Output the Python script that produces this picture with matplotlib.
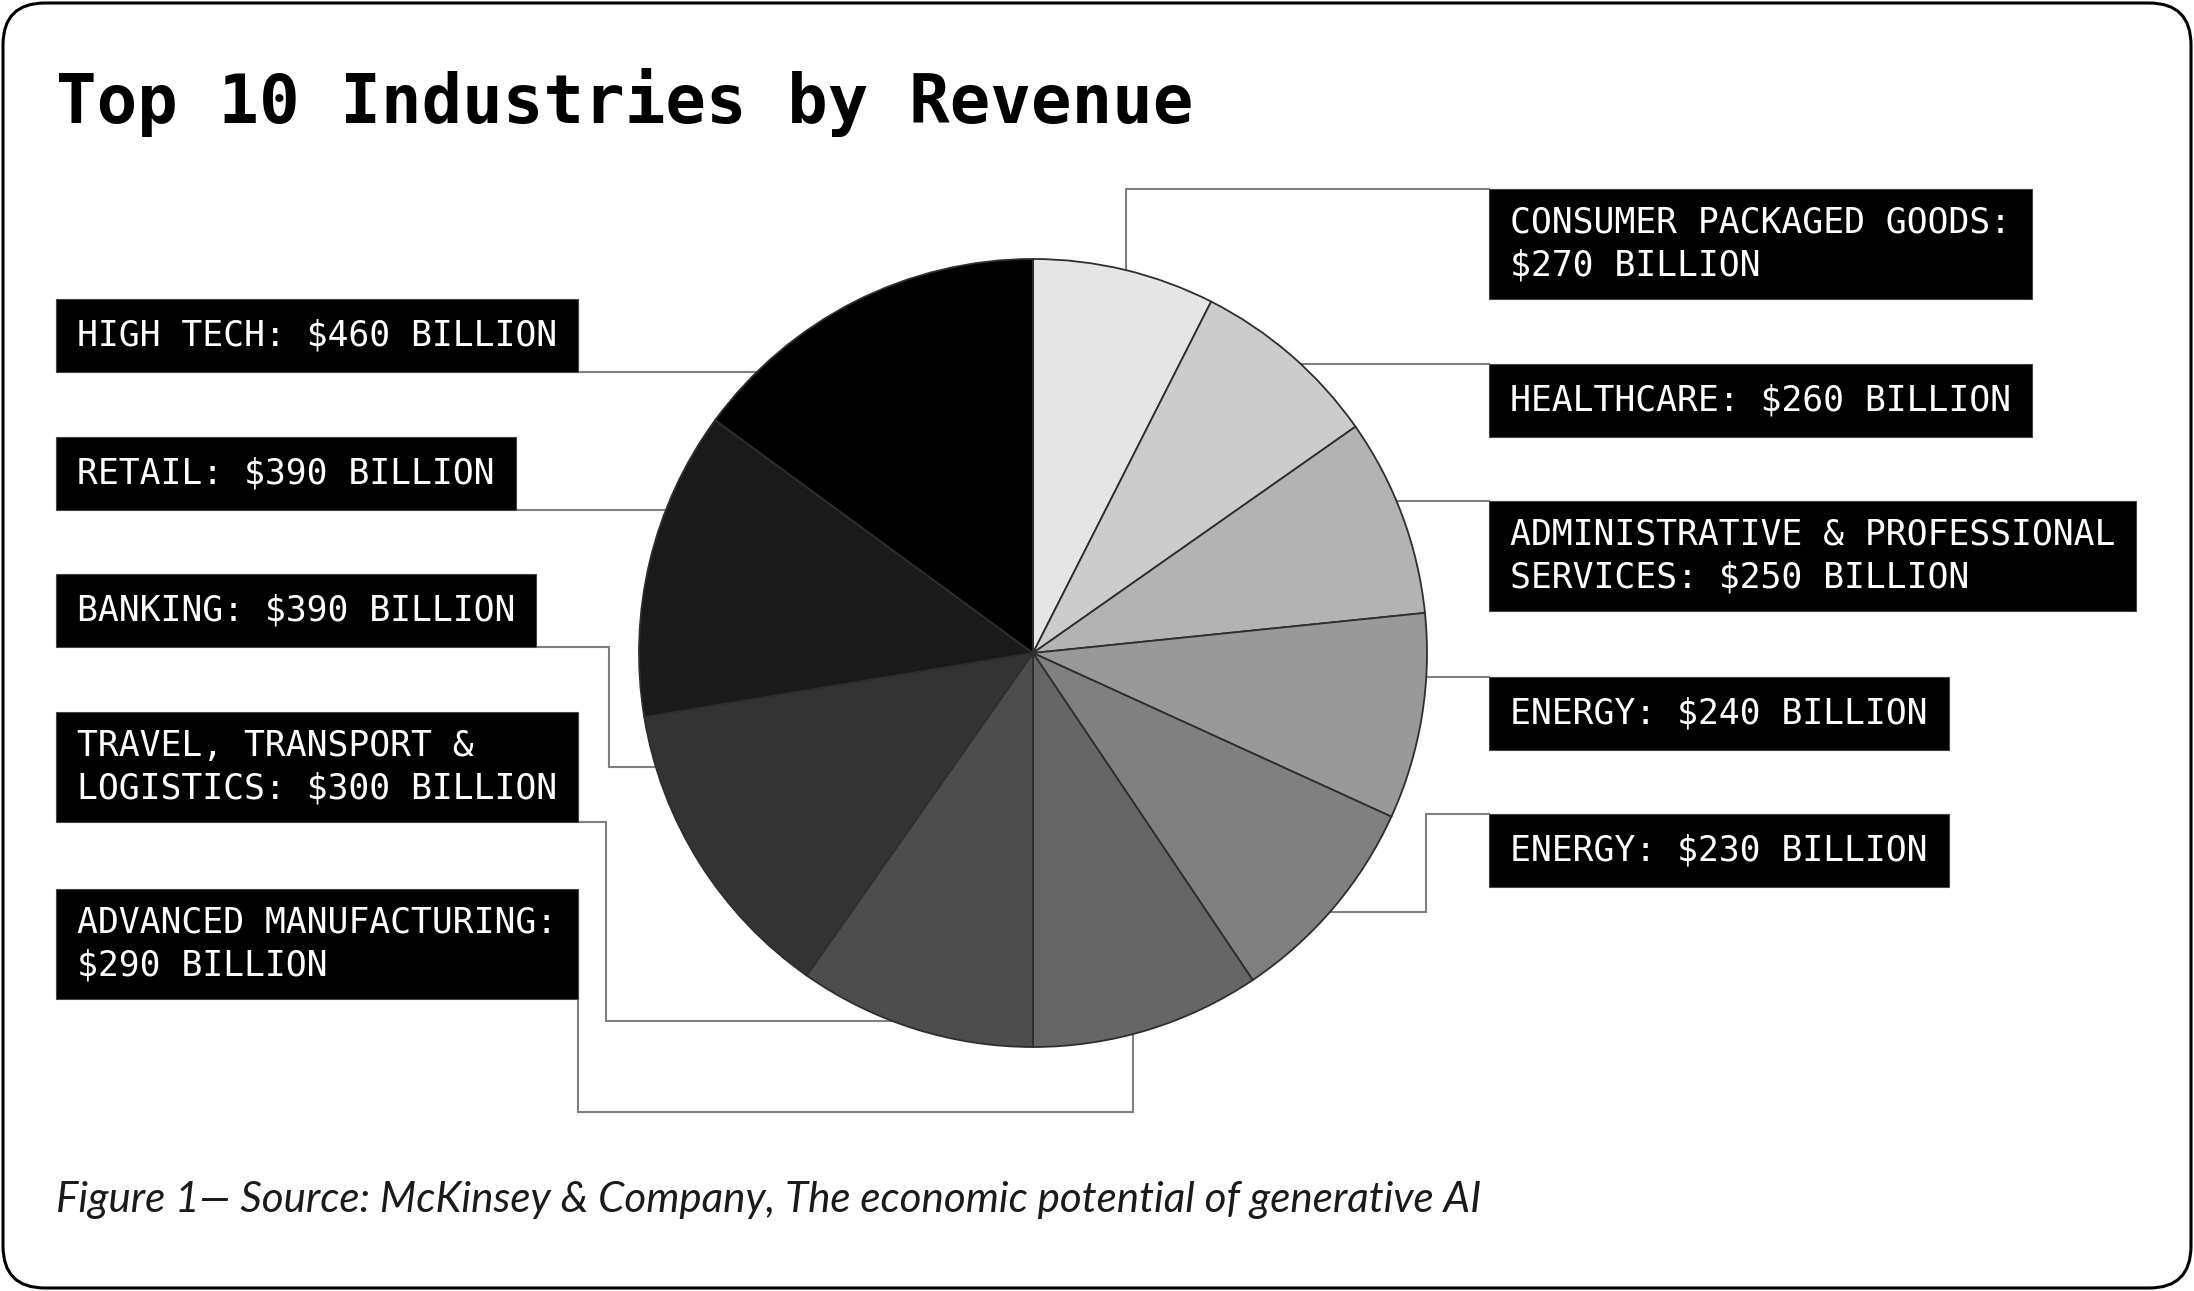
import numpy as np
import matplotlib.pyplot as plt
from matplotlib.patches import Rectangle, FancyBboxPatch

W, H = 2194, 1291

# label boxes, left column top to bottom, then right column top to bottom
box_labels = [
    "HIGH TECH: $460 BILLION",
    "RETAIL: $390 BILLION",
    "BANKING: $390 BILLION",
    "TRAVEL, TRANSPORT &\nLOGISTICS: $300 BILLION",
    "ADVANCED MANUFACTURING:\n$290 BILLION",
    "CONSUMER PACKAGED GOODS:\n$270 BILLION",
    "HEALTHCARE: $260 BILLION",
    "ADMINISTRATIVE & PROFESSIONAL\nSERVICES: $250 BILLION",
    "ENERGY: $240 BILLION",
    "ENERGY: $230 BILLION",
]
revenue = [460, 390, 390, 300, 290, 270, 260, 250, 240, 230]  # $ billion

# wedges run clockwise from 12 o'clock, smallest first, lightest first
wedge_vals = sorted(revenue)
shades = ["#e5e5e5", "#cccccc", "#b3b3b3", "#999999", "#808080",
          "#666666", "#4d4d4d", "#333333", "#1a1a1a", "#000000"]

title = "Top 10 Industries by Revenue"
caption = "Figure 1\u2014 Source: McKinsey & Company, The economic potential of generative AI"

# layout in pixels, measured from the top-left corner
CX, CY, R = 1033, 653, 394
left_x, right_x = 56, 1489
box_tops = [299, 437, 574, 712, 889, 189, 364, 501, 677, 814]
PAD = 21
LINE_C = "#808080"


def fy(y):
    return H - y


def edge_left(y):
    return CX - np.sqrt(R**2 - (y - CY)**2)


def edge_right(y):
    return CX + np.sqrt(R**2 - (y - CY)**2)


def edge_top(x):
    return CY - np.sqrt(R**2 - (x - CX)**2)


def edge_bottom(x):
    return CY + np.sqrt(R**2 - (x - CX)**2)


fig = plt.figure(figsize=(W / 100, H / 100), dpi=100)
ax = fig.add_axes([0, 0, 1, 1])

ax.pie(wedge_vals, colors=shades, startangle=90, counterclock=False,
       center=(CX, fy(CY)), radius=R,
       wedgeprops=dict(edgecolor="#2e2e2e", linewidth=1.3))
ax.set_xlim(0, W)
ax.set_ylim(0, H)
ax.set_aspect("auto")
ax.axis("off")

renderer = fig.canvas.get_renderer()
box_right = []
for i, label in enumerate(box_labels):
    x0 = left_x if i < 5 else right_x
    top = box_tops[i]
    h = 110 if "\n" in label else 73
    t = ax.text(x0 + PAD, fy(top + h / 2), label, ha="left", va="center",
                family="DejaVu Sans Mono", fontsize=25, color="white",
                linespacing=1.32, zorder=5)
    bb = t.get_window_extent(renderer)
    w = bb.width + 2 * PAD
    ax.add_patch(Rectangle((x0, fy(top + h)), w, h, facecolor="black",
                           edgecolor="#444444", linewidth=0.8, zorder=4))
    box_right.append(x0 + w)

# leader lines, drawn under the pie
bottoms = [box_tops[i] + (110 if "\n" in box_labels[i] else 73) for i in range(10)]
paths = [
    [(box_right[0], bottoms[0]), (edge_left(bottoms[0]), bottoms[0])],
    [(box_right[1], bottoms[1]), (edge_left(bottoms[1]), bottoms[1])],
    [(box_right[2], bottoms[2]), (609, bottoms[2]), (609, 767), (edge_left(767), 767)],
    [(box_right[3], bottoms[3]), (606, bottoms[3]), (606, 1021), (edge_left(1021), 1021)],
    [(box_right[4], bottoms[4]), (box_right[4], 1112), (1133, 1112), (1133, edge_bottom(1133))],
    [(right_x, box_tops[5]), (1126, box_tops[5]), (1126, edge_top(1126))],
    [(right_x, box_tops[6]), (edge_right(box_tops[6]), box_tops[6])],
    [(right_x, box_tops[7]), (edge_right(box_tops[7]), box_tops[7])],
    [(right_x, box_tops[8]), (edge_right(box_tops[8]), box_tops[8])],
    [(right_x, box_tops[9]), (1426, box_tops[9]), (1426, 912), (edge_right(912), 912)],
]
for p in paths:
    xs = [q[0] for q in p]
    ys = [fy(q[1]) for q in p]
    ax.plot(xs, ys, color=LINE_C, linewidth=1.5, zorder=0.5,
            solid_joinstyle="miter")

ax.text(56, fy(123), title, ha="left", va="baseline",
        family="DejaVu Sans Mono", fontweight="bold", fontsize=48.5,
        color="black")
ax.text(56, fy(1212), caption, ha="left", va="baseline",
        family=["Lato", "DejaVu Sans"], style="italic", fontsize=30.3,
        color="#1a1a1a")

# rounded card border
ax.add_patch(FancyBboxPatch((3, 3), W - 6, H - 6,
                            boxstyle="round,pad=0,rounding_size=42",
                            fill=False, edgecolor="black", linewidth=2.2,
                            clip_on=False, zorder=6))

fig.savefig("out.png", dpi=100)
